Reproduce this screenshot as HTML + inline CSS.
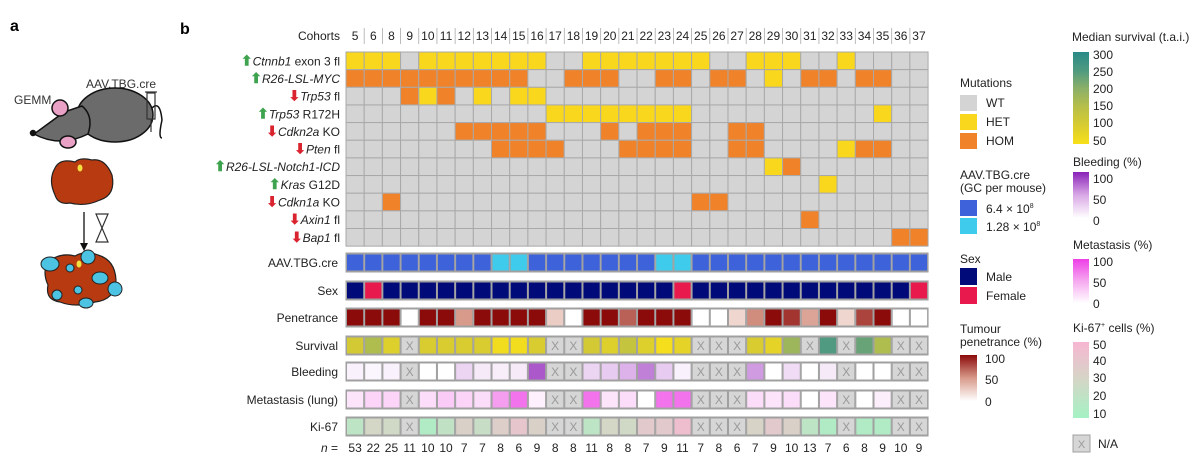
<!DOCTYPE html>
<html><head><meta charset="utf-8"><style>
html,body{margin:0;padding:0;background:#fff;}
svg{display:block;font-family:"Liberation Sans",sans-serif;}
</style></head><body>
<svg id="fig" width="1200" height="463" viewBox="0 0 1200 463" xmlns="http://www.w3.org/2000/svg">
<g>
 <text x="10" y="31" font-size="16" font-weight="bold">a</text>
 <text x="14" y="104" font-size="12" fill="#333">GEMM</text>
 <text x="86" y="88" font-size="12" fill="#333">AAV.TBG.cre</text>
 <g stroke="#111" stroke-width="1.5">
  <ellipse cx="115" cy="115" rx="38" ry="27" fill="#6b6b6b"/>
  <path d="M64 112 Q48 124 34 134 Q60 148 88 134 Q94 116 82 106 Z" fill="#6b6b6b"/>
  <ellipse cx="60" cy="108" rx="8" ry="8" fill="#e9a2c5"/>
  <ellipse cx="68" cy="142" rx="8" ry="6" fill="#e9a2c5"/>
  <path d="M152 108 Q160 100 162 120 Q158 138 162 138" fill="none"/>
  <circle cx="33" cy="133" r="2.5" fill="#111"/>
 </g>
 <g stroke="#333" stroke-width="1.2" fill="none">
  <rect x="147" y="93" width="8" height="26"/><line x1="151" y1="119" x2="151" y2="132"/><line x1="145" y1="92" x2="157" y2="92"/>
 </g>
 <g>
  <path d="M55 168 Q60 158 75 162 Q80 157 92 160 Q105 158 112 175 Q116 195 100 200 Q85 207 70 203 Q58 205 55 195 Q48 180 55 168Z" fill="#b83a10" stroke="#222" stroke-width="1.2"/>
  <ellipse cx="80" cy="168" rx="2.5" ry="3.5" fill="#f0e040"/>
 </g>
 <line x1="84" y1="212" x2="84" y2="245" stroke="#111" stroke-width="1.3"/>
 <path d="M80 243 L84 251 L88 243Z" fill="#111"/>
 <g stroke="#333" fill="none" stroke-width="1.2"><path d="M96 214 L108 214 L102 228 L108 242 L96 242 L102 228Z"/></g>
 <g>
  <path d="M48 262 Q60 252 75 256 Q85 250 98 255 Q115 260 116 280 Q115 300 95 302 Q75 308 60 302 Q45 300 48 285 Q42 272 48 262Z" fill="#b83a10" stroke="#222" stroke-width="1.2"/>
  <g fill="#4cc3e3" stroke="#222" stroke-width="1"><ellipse cx="50" cy="264" rx="9" ry="7"/><ellipse cx="88" cy="257" rx="7" ry="7"/><ellipse cx="100" cy="278" rx="8" ry="6"/><ellipse cx="115" cy="289" rx="7" ry="7"/><ellipse cx="57" cy="295" rx="5" ry="5"/><ellipse cx="86" cy="303" rx="7" ry="5"/><ellipse cx="70" cy="268" rx="4" ry="4"/><ellipse cx="78" cy="290" rx="4" ry="4"/></g>
  <ellipse cx="79" cy="264" rx="2.5" ry="3.5" fill="#f0e040"/>
 </g>
</g>
<text x="180" y="34" font-size="16" font-weight="bold">b</text>
<g id="heat"></g>
<g id="legends"></g>
</svg>
<script>
const cohorts=[5,6,8,9,10,11,12,13,14,15,16,17,18,19,20,21,22,23,24,25,26,27,28,29,30,31,32,33,34,35,36,37];
const nValues=[53,22,25,11,10,10,7,7,8,6,9,8,8,11,8,8,7,9,11,7,8,6,7,9,10,13,7,6,8,9,10,9];
const geneLabels=[["Ctnnb1"," exon 3 fl","up"],["R26-LSL-MYC","","up"],["Trp53"," fl","down"],["Trp53"," R172H","up"],["Cdkn2a"," KO","down"],["Pten"," fl","down"],["R26-LSL-Notch1-ICD","","up"],["Kras"," G12D","up"],["Cdkn1a"," KO","down"],["Axin1"," fl","down"],["Bap1"," fl","down"]];
// 0 WT, 1 HET, 2 HOM
const mutCtnnb1=[1,1,1,0,1,1,1,1,1,1,1,0,0,1,1,1,1,1,1,1,0,0,1,1,1,0,0,1,0,0,0,0];
const mutMyc=[2,2,2,2,2,2,2,2,2,2,0,0,2,2,2,0,0,2,2,0,2,2,0,1,0,2,2,0,2,2,0,0];
const mutTrp53fl=[0,0,0,2,1,2,0,1,0,1,1,0,0,0,0,0,0,0,0,0,0,0,0,0,0,0,0,0,0,0,0,0];
const mutR172H=[0,0,0,0,0,0,0,0,0,0,0,1,1,1,1,1,1,1,1,0,0,0,0,0,0,0,0,0,0,1,0,0];
const mutCdkn2a=[0,0,0,0,0,0,2,2,2,2,2,0,0,0,2,0,2,2,2,0,0,2,2,0,0,0,0,0,0,0,0,0];
const mutPten=[0,0,0,0,0,0,0,0,2,2,2,2,0,0,0,2,2,2,2,0,0,2,2,0,0,0,0,1,2,2,0,0];
const mutNotch=[0,0,0,0,0,0,0,0,0,0,0,0,0,0,0,0,0,0,0,0,0,0,0,1,2,0,0,0,0,0,0,0];
const mutKras=[0,0,0,0,0,0,0,0,0,0,0,0,0,0,0,0,0,0,0,0,0,0,0,0,0,0,1,0,0,0,0,0];
const mutCdkn1a=[0,0,2,0,0,0,0,0,0,0,0,0,0,0,0,0,0,0,0,2,2,0,0,0,0,0,0,0,0,0,0,0];
const mutAxin1=[0,0,0,0,0,0,0,0,0,0,0,0,0,0,0,0,0,0,0,0,0,0,0,0,0,2,0,0,0,0,0,0];
const mutBap1=[0,0,0,0,0,0,0,0,0,0,0,0,0,0,0,0,0,0,0,0,0,0,0,0,0,0,0,0,0,0,2,2];
const aavDose=[0,0,0,0,0,0,0,0,1,1,0,0,0,0,0,0,0,1,1,0,0,0,0,0,0,0,0,0,0,0,0,0];
const sexFemale=[0,1,0,0,0,0,0,0,0,0,0,0,0,0,0,0,0,0,1,0,0,0,0,0,0,0,0,0,0,0,0,1];
const penetrance=[100,100,100,0,100,100,50,100,100,100,100,25,0,100,100,70,100,100,100,0,0,20,55,100,85,45,100,20,80,100,0,0];
const survival=[110,160,90,null,100,100,100,100,60,60,100,null,null,110,90,130,90,55,80,null,null,null,100,80,180,null,250,null,230,160,null,null];
const bleeding=[8,5,8,null,0,0,25,12,10,12,80,null,null,25,30,45,65,30,8,null,null,null,55,0,20,0,12,null,0,0,null,null];
const metastasis=[15,25,25,null,20,30,25,20,55,75,8,null,null,75,15,20,0,75,75,null,null,null,20,15,20,0,15,null,0,10,null,null];
const ki67=[20,30,28,null,15,22,33,25,35,40,33,null,null,20,30,28,38,38,45,null,null,null,32,38,33,20,15,null,15,15,null,null];

const NS="http://www.w3.org/2000/svg";
const X0=346, CW=18.19;
const xs=i=>X0+i*CW;
function el(tag,attrs,parent){const e=document.createElementNS(NS,tag);for(const k in attrs)e.setAttribute(k,attrs[k]);parent.appendChild(e);return e;}
function hex(h){return [1,3,5].map(i=>parseInt(h.substr(i,2),16));}
function lerp(stops,t){t=Math.max(0,Math.min(1,t));const n=stops.length-1;const k=Math.min(n-1,Math.floor(t*n));const f=t*n-k;const a=hex(stops[k]),b=hex(stops[k+1]);return "rgb("+a.map((v,i)=>Math.round(v+(b[i]-v)*f)).join(",")+")";}
const survStops=["#f8e01a","#d8cc30","#b8bf48","#8cb068","#4f9a80","#2a8a86"];
const bleedStops=["#ffffff","#d9a8e6","#8a22b8"];
const metStops=["#ffffff","#f6a8f0","#ee3ee6"];
const kiStops=["#a4f2c4","#d4d6c6","#f7b6d2"];
const penStops=["#ffffff","#d89a8a","#8b0a0a"];
const mutCol=["#d4d4d4","#f9d71c","#f0822a"];
const heat=document.getElementById('heat');

const hdr=el('text',{x:340,y:40,'font-size':12,'text-anchor':'end',fill:'#222'},heat);hdr.textContent='Cohorts';


cohorts.forEach((c,i)=>{
 const t=el('text',{x:xs(i)+CW/2,y:40,'font-size':12,'text-anchor':'middle',fill:'#222'},heat);t.textContent=c;
 
 
 if(i>0){const l=el('line',{x1:xs(i),x2:xs(i),y1:28,y2:44,stroke:'#aaa','stroke-width':0.8},heat);
 
 }
});
const mutRows=[mutCtnnb1,mutMyc,mutTrp53fl,mutR172H,mutCdkn2a,mutPten,mutNotch,mutKras,mutCdkn1a,mutAxin1,mutBap1];
const RY0=52, RH=17.65;
mutRows.forEach((row,r)=>{
 const y=RY0+r*RH;
 const g=geneLabels[r];
 const t=el('text',{x:340,y:y+RH/2+4.5,'font-size':12,'text-anchor':'end',fill:'#222'},heat);
 
 
 const ar=el('tspan',{fill:g[2]=='up'?'#3ea34e':'#d9232e','font-weight':'bold','font-size':14},t);ar.textContent=g[2]=='up'?'⬆':'⬇';
 const it=el('tspan',{'font-style':'italic'},t);it.textContent=g[0];
 const rest=el('tspan',{},t);rest.textContent=g[1];
 row.forEach((v,i)=>{
  const c=el('rect',{x:xs(i),y:y,width:CW,height:RH,fill:mutCol[v],stroke:'#a9a9a9','stroke-width':1},heat);
  
  
 });
});
const strips=[
 ['AAV.TBG.cre',253,aavDose,v=>v?'#3fcbec':'#3d62da'],
 ['Sex',281,sexFemale,v=>v?'#e8194c':'#000a78'],
 ['Penetrance',308,penetrance,v=>lerp(penStops,v/100)],
 ['Survival',336,survival,v=>lerp(survStops,(v-50)/250)],
 ['Bleeding',362,bleeding,v=>lerp(bleedStops,v/100)],
 ['Metastasis (lung)',390,metastasis,v=>lerp(metStops,v/100)],
 ['Ki-67',417,ki67,v=>lerp(kiStops,(v-10)/40)]
];
strips.forEach(([lab,y,arr,fn])=>{
 const t=el('text',{x:338,y:y+14,'font-size':12,'text-anchor':'end',fill:'#222'},heat);t.textContent=lab;
 
 
 const bg=el('rect',{x:X0,y:y,width:CW*32,height:19,fill:'#d4d4d4',stroke:'#a0a0a0','stroke-width':1},heat);
 
 
 arr.forEach((v,i)=>{
  const na=(v===null);
  const c=el('rect',{x:xs(i)+0.5,y:y+1,width:CW-1,height:17,fill:na?'#d6d6d6':fn(v),stroke:'#a0a0a0','stroke-width':1},heat);
  
  
  if(na){const x=el('text',{x:xs(i)+CW/2,y:y+14,'font-size':12,'text-anchor':'middle',fill:'#999'},heat);x.textContent='X';
   
   }
 });
});
const nl=el('text',{x:338,y:452,'font-size':12,'text-anchor':'end',fill:'#222'},heat);


const ni=el('tspan',{'font-style':'italic'},nl);ni.textContent='n';el('tspan',{},nl).textContent=' =';
nValues.forEach((n,i)=>{const t=el('text',{x:xs(i)+CW/2,y:452,'font-size':12,'text-anchor':'middle',fill:'#222'},heat);t.textContent=n;
 
 });

const L=document.getElementById('legends');
function txt(x,y,s,name,size){const t=el('text',{x:x,y:y,'font-size':size||12,fill:'#222'},L);t.textContent=s;
 
 return t;}
function sw(x,y,w,h,fill,name){const r=el('rect',{x:x,y:y,width:w,height:h,fill:fill},L);
 
 return r;}
txt(960,87,'Mutations','legend-mutations-title');
sw(960,95,17,16,'#d4d4d4','legend-wt');txt(986,107,'WT','legend-wt-label');
sw(960,114,17,16,'#f9d71c','legend-het');txt(986,126,'HET','legend-het-label');
sw(960,133,17,16,'#f0822a','legend-hom');txt(986,145,'HOM','legend-hom-label');
txt(960,179,'AAV.TBG.cre','legend-aav-title');txt(960,192,'(GC per mouse)','legend-aav-subtitle');
sw(960,200,17,16,'#3d62da','legend-aav-high');
const a1=txt(986,213,'6.4 × 10','legend-aav-high-label');el('tspan',{dy:-5,'font-size':7},a1).textContent='8';
sw(960,218,17,16,'#3fcbec','legend-aav-low');
const a2=txt(986,231,'1.28 × 10','legend-aav-low-label');el('tspan',{dy:-5,'font-size':7},a2).textContent='8';
txt(960,263,'Sex','legend-sex-title');
sw(960,268,17,17,'#000a78','legend-male');txt(986,281,'Male','legend-male-label');
sw(960,287,17,17,'#e8194c','legend-female');txt(986,300,'Female','legend-female-label');
txt(960,333,'Tumour','legend-penetrance-title');txt(960,346,'penetrance (%)','legend-penetrance-subtitle');
function grad(id,stops,x,y,w,h,name){
 const d=el('linearGradient',{id:id,x1:0,y1:1,x2:0,y2:0},L);
 stops.forEach((s,i)=>el('stop',{offset:i/(stops.length-1),'stop-color':s},d));
 const r=el('rect',{x:x,y:y,width:w,height:h,fill:'url(#'+id+')'},L);
 
 
}
grad('gp',penStops,960,355,17,46,'legend-penetrance-bar');
txt(985,363,'100','tick');txt(985,384,'50','tick');txt(985,406,'0','tick');
txt(1072,41,'Median survival (t.a.i.)','legend-survival-title');
grad('gs',survStops,1073,52,16,92,'legend-survival-bar');
[['300',59],['250',76],['200',93],['150',110],['100',127],['50',145]].forEach(a=>txt(1093,a[1],a[0],'tick'));
txt(1073,166,'Bleeding (%)','legend-bleeding-title');
grad('gb',bleedStops,1073,172,16,46,'legend-bleeding-bar');
txt(1093,183,'100','tick');txt(1093,204,'50','tick');txt(1093,225,'0','tick');
txt(1073,249,'Metastasis (%)','legend-metastasis-title');
grad('gm',metStops,1073,259,16,44,'legend-metastasis-bar');
txt(1093,266,'100','tick');txt(1093,287,'50','tick');txt(1093,308,'0','tick');
const kt=txt(1073,332,'Ki-67','legend-ki67-title');el('tspan',{dy:-5,'font-size':7},kt).textContent='+';el('tspan',{dy:5},kt).textContent=' cells (%)';
grad('gk',kiStops,1073,342,16,76,'legend-ki67-bar');
[['50',349],['40',365],['30',382],['20',400],['10',418]].forEach(a=>txt(1093,a[1],a[0],'tick'));
sw(1073,435,17,17,'#d6d6d6','legend-na-box').setAttribute('stroke','#a0a0a0');
const nx=el('text',{x:1081.5,y:448,'font-size':11,'text-anchor':'middle',fill:'#999'},L);nx.textContent='X';


txt(1098,448,'N/A','legend-na-label');
</script>
</body></html>
